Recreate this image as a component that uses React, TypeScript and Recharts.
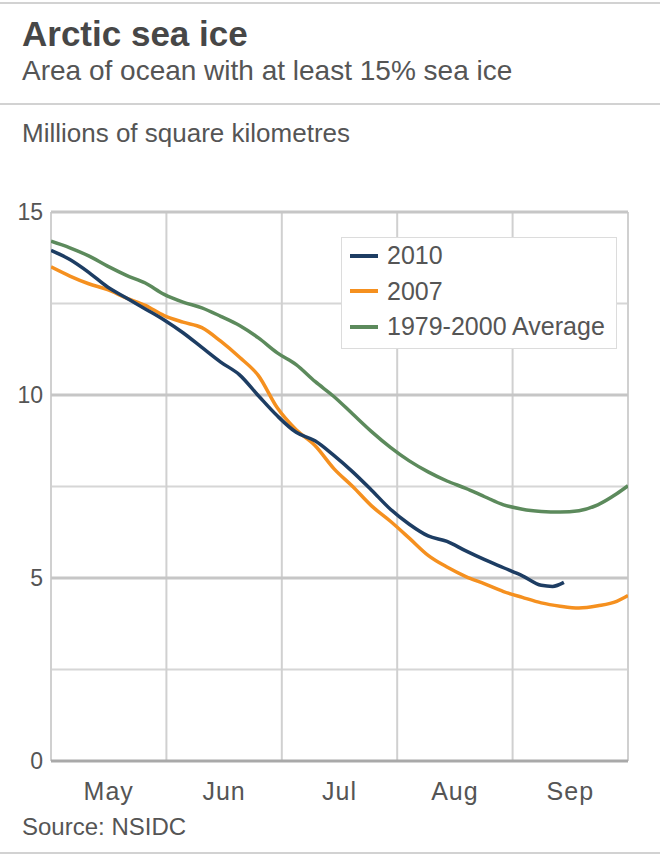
import React from 'react';
import { LineChart, Line, XAxis, YAxis, ReferenceLine, Legend } from 'recharts';

// Days since 1 May (each month ~30.6 days on the axis)
const dayGrid = [0, 5, 10, 15, 20, 25, 30, 35, 40, 45, 50, 55, 60, 65, 70, 75, 80, 85, 90, 95, 100, 105, 110, 115, 120, 125, 130, 135, 140, 145, 150, 153];
const ice2007 = [13.5, 13.25, 13.04, 12.88, 12.65, 12.45, 12.17, 11.99, 11.84, 11.47, 11.03, 10.53, 9.65, 9.05, 8.62, 7.99, 7.5, 6.97, 6.55, 6.09, 5.62, 5.3, 5.04, 4.84, 4.63, 4.47, 4.32, 4.23, 4.18, 4.24, 4.36, 4.52];
const iceAverage = [14.2, 14.02, 13.8, 13.52, 13.27, 13.06, 12.75, 12.54, 12.38, 12.15, 11.9, 11.56, 11.15, 10.83, 10.37, 9.96, 9.48, 9.0, 8.57, 8.2, 7.9, 7.65, 7.45, 7.22, 7.0, 6.88, 6.82, 6.8, 6.84, 7.0, 7.3, 7.52];
const days2010 = [0, 5, 10, 15, 20, 25, 30, 35, 40, 45, 50, 55, 60, 65, 70, 75, 80, 85, 90, 95, 100, 105, 110, 115, 120, 125, 130, 133, 136];
const ice2010 = [13.95, 13.7, 13.35, 12.95, 12.65, 12.35, 12.05, 11.7, 11.3, 10.9, 10.55, 9.98, 9.43, 8.98, 8.75, 8.35, 7.9, 7.4, 6.88, 6.47, 6.15, 6.0, 5.74, 5.5, 5.28, 5.06, 4.8, 4.77, 4.88];

const monthStarts = [0, 30.6, 61.2, 91.8, 122.4, 153];
const monthLabels = ['May', 'Jun', 'Jul', 'Aug', 'Sep'];
const majorTicks = [0, 5, 10, 15];
const minorTicks = [2.5, 7.5, 12.5];

const legendItems = [
  { name: '2010', color: '#1d3d63' },
  { name: '2007', color: '#f5901f' },
  { name: '1979-2000 Average', color: '#5c8a5c' },
];

const FONT = '"Liberation Sans", Arial, Helvetica, sans-serif';

const table = dayGrid.map((d, i) => ({ day: d, y2007: ice2007[i], avg: iceAverage[i] }));
const table2010 = days2010.map((d, i) => ({ day: d, y2010: ice2010[i] }));
const monthMids = monthLabels.map((_, i) => (monthStarts[i] + monthStarts[i + 1]) / 2);

const LegendBox = () => (
  <div
    style={{
      border: '1.5px solid #dcdcdc',
      background: '#fff',
      width: 276,
      height: 112,
      boxSizing: 'border-box',
      paddingTop: 0,
      fontFamily: FONT,
    }}
  >
    {legendItems.map((it) => (
      <div key={it.name} style={{ display: 'flex', alignItems: 'center', height: 35.5 }}>
        <div style={{ width: 28, height: 4, background: it.color, marginLeft: 8, marginRight: 9 }} />
        <span style={{ fontSize: 25, color: '#555', lineHeight: 1 }}>{it.name}</span>
      </div>
    ))}
  </div>
);

export default function App() {
  const textBase: React.CSSProperties = { position: 'absolute', left: 22, fontFamily: FONT, lineHeight: 1, whiteSpace: 'nowrap' };
  return (
    <div style={{ position: 'absolute', left: 0, top: 0, width: 660, height: 857, background: '#fff', overflow: 'hidden' }}>
      <div style={{ position: 'absolute', left: 0, top: 2, width: 660, height: 2, background: '#d2d2d2' }} />
      <div style={{ position: 'absolute', left: 0, top: 103, width: 660, height: 2, background: '#d2d2d2' }} />
      <div style={{ position: 'absolute', left: 0, top: 852, width: 660, height: 2, background: '#d2d2d2' }} />
      <div style={{ position: 'absolute', left: 0, top: 0 }}>
        <LineChart width={660} height={857} data={table} margin={{ top: 212, right: 32, left: 11, bottom: 66 }}>
          {minorTicks.map((t) => (
            <ReferenceLine key={'mi' + t} y={t} stroke="#d6d6d6" strokeWidth={2} />
          ))}
          {monthStarts.map((m) => (
            <ReferenceLine key={'v' + m} x={m} stroke="#d0d0d0" strokeWidth={2} />
          ))}
          {majorTicks.map((t) => (
            <ReferenceLine key={'ma' + t} y={t} stroke={t === 0 ? '#a9a9a9' : '#c6c6c6'} strokeWidth={3} />
          ))}
          <XAxis
            dataKey="day"
            type="number"
            domain={[0, 153]}
            ticks={monthMids}
            tickFormatter={(v: number) => monthLabels[monthMids.indexOf(v)] ?? ''}
            axisLine={false}
            tickLine={false}
            tickSize={0}
            tickMargin={21}
            height={30}
            allowDataOverflow
            tick={{ fontSize: 25, fill: '#555', fontFamily: FONT, letterSpacing: 1 }}
          />
          <YAxis
            type="number"
            domain={[0, 15]}
            ticks={majorTicks}
            axisLine={false}
            tickLine={false}
            tickSize={0}
            tickMargin={8}
            width={40}
            tick={{ fontSize: 23, fill: '#555', fontFamily: FONT }}
          />
          <Line dataKey="avg" name="1979-2000 Average" stroke="#5c8a5c" strokeWidth={3.5} dot={false} type="monotone" isAnimationActive={false} />
          <Line dataKey="y2007" name="2007" stroke="#f5901f" strokeWidth={3.5} dot={false} type="monotone" isAnimationActive={false} />
          <Line data={table2010} dataKey="y2010" name="2010" stroke="#1d3d63" strokeWidth={3.5} dot={false} type="monotone" isAnimationActive={false} />
          <Legend
            layout="vertical"
            align="center"
            verticalAlign="middle"
            content={() => <LegendBox />}
            wrapperStyle={{ left: 341, top: 237, width: 276, height: 112 }}
          />
        </LineChart>
      </div>
      <div style={{ ...textBase, top: 16, fontSize: 35, fontWeight: 'bold', color: '#474747' }}>Arctic sea ice</div>
      <div style={{ ...textBase, top: 57, fontSize: 28, color: '#555' }}>Area of ocean with at least 15% sea ice</div>
      <div style={{ ...textBase, top: 119.5, fontSize: 26, color: '#555' }}>Millions of square kilometres</div>
      <div style={{ ...textBase, top: 814.5, fontSize: 24, color: '#555' }}>Source: NSIDC</div>
    </div>
  );
}
